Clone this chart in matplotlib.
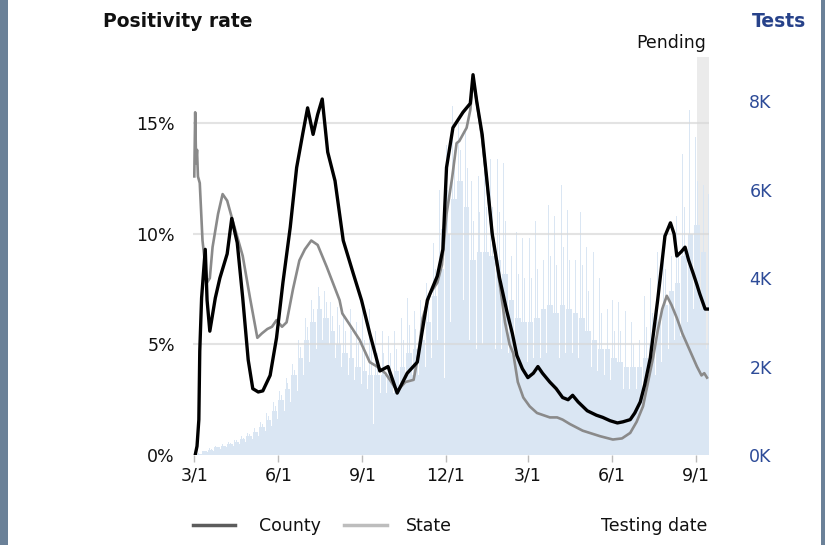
import matplotlib
matplotlib.use("Agg")
import matplotlib.pyplot as plt
import matplotlib.dates as mdates
import pandas as pd
from matplotlib.lines import Line2D
from matplotlib.patches import Rectangle

# ---------------- data ----------------
county_dates = ["2020-03-02", "2020-03-04", "2020-03-06", "2020-03-07", "2020-03-09", "2020-03-13",
                "2020-03-15", "2020-03-18", "2020-03-24", "2020-03-29", "2020-04-06", "2020-04-11",
                "2020-04-17", "2020-04-23", "2020-04-29", "2020-05-04", "2020-05-10", "2020-05-15",
                "2020-05-23", "2020-05-30", "2020-06-06", "2020-06-14", "2020-06-21", "2020-06-28",
                "2020-07-03", "2020-07-09", "2020-07-14", "2020-07-19", "2020-07-25", "2020-08-02",
                "2020-08-11", "2020-08-22", "2020-08-31", "2020-09-09", "2020-09-20", "2020-09-29",
                "2020-10-09", "2020-10-20", "2020-10-31", "2020-11-05", "2020-11-11", "2020-11-22",
                "2020-11-28", "2020-12-02", "2020-12-09", "2020-12-20", "2020-12-28", "2020-12-31",
                "2021-01-04", "2021-01-10", "2021-01-15", "2021-01-21", "2021-01-29", "2021-02-06",
                "2021-02-12", "2021-02-17", "2021-02-23", "2021-03-01", "2021-03-07", "2021-03-12",
                "2021-03-17", "2021-03-25", "2021-04-01", "2021-04-08", "2021-04-14", "2021-04-19",
                "2021-04-25", "2021-05-05", "2021-05-15", "2021-05-22", "2021-05-30", "2021-06-07",
                "2021-06-13", "2021-06-21", "2021-06-26", "2021-07-02", "2021-07-07", "2021-07-13",
                "2021-07-17", "2021-07-21", "2021-07-26", "2021-07-29", "2021-08-04", "2021-08-08",
                "2021-08-11", "2021-08-16", "2021-08-20", "2021-08-24", "2021-08-29", "2021-09-02",
                "2021-09-05", "2021-09-11", "2021-09-14"]
county_rate = [0.0, 0.4, 1.6, 4.7, 7.1, 9.3,
               7.0, 5.6, 7.1, 8.0, 9.1, 10.7,
               9.6, 7.1, 4.3, 3.0, 2.85, 2.9,
               3.6, 5.3, 7.8, 10.3, 13.0, 14.6,
               15.7, 14.5, 15.4, 16.1, 13.7, 12.4,
               9.7, 8.2, 7.0, 5.5, 3.8, 4.0,
               2.8, 3.7, 4.2, 5.5, 7.0, 8.1,
               9.3, 13.0, 14.8, 15.5, 15.9, 17.2,
               16.0, 14.5, 12.5, 10.0, 8.0, 6.5,
               5.5, 4.5, 3.9, 3.5, 3.7, 4.0,
               3.7, 3.3, 3.0, 2.6, 2.5, 2.7,
               2.4, 2.0, 1.8, 1.7, 1.55, 1.45,
               1.5, 1.6, 1.9, 2.4, 3.2, 4.4,
               5.7, 7.0, 8.8, 9.9, 10.5, 10.0,
               9.0, 9.2, 9.4, 8.8, 8.2, 7.7,
               7.3, 6.6, 6.6]

state_dates = ["2020-03-01", "2020-03-02", "2020-03-03", "2020-03-04", "2020-03-05", "2020-03-07",
               "2020-03-10", "2020-03-15", "2020-03-18", "2020-03-21", "2020-03-27", "2020-04-01",
               "2020-04-06", "2020-04-12", "2020-04-23", "2020-05-01", "2020-05-09", "2020-05-14",
               "2020-05-20", "2020-05-25", "2020-05-30", "2020-06-05", "2020-06-10", "2020-06-17",
               "2020-06-24", "2020-06-30", "2020-07-07", "2020-07-14", "2020-07-24", "2020-08-07",
               "2020-08-10", "2020-08-18", "2020-08-29", "2020-09-09", "2020-09-17", "2020-09-26",
               "2020-10-01", "2020-10-09", "2020-10-18", "2020-10-27", "2020-11-01", "2020-11-06",
               "2020-11-14", "2020-11-22", "2020-11-27", "2020-12-02", "2020-12-08", "2020-12-13",
               "2020-12-16", "2020-12-24", "2020-12-28", "2020-12-31", "2021-01-04", "2021-01-10",
               "2021-01-15", "2021-01-21", "2021-01-29", "2021-02-04", "2021-02-09", "2021-02-13",
               "2021-02-18", "2021-02-24", "2021-03-03", "2021-03-11", "2021-03-25", "2021-04-02",
               "2021-04-08", "2021-04-16", "2021-04-30", "2021-05-19", "2021-06-02", "2021-06-12",
               "2021-06-21", "2021-06-28", "2021-07-05", "2021-07-10", "2021-07-16", "2021-07-21",
               "2021-07-26", "2021-07-31", "2021-08-05", "2021-08-11", "2021-08-17", "2021-08-25",
               "2021-09-02", "2021-09-07", "2021-09-10", "2021-09-13"]
state_rate = [12.6, 15.5, 13.2, 13.8, 12.6, 12.3,
              9.7, 7.8, 8.0, 9.4, 10.9, 11.8,
              11.5, 10.6, 9.0, 7.1, 5.3, 5.5,
              5.7, 5.8, 6.1, 5.8, 6.0, 7.5,
              8.8, 9.3, 9.7, 9.5, 8.5, 7.0,
              6.4, 5.9, 5.2, 4.2, 4.0, 3.7,
              3.4, 2.9, 3.3, 3.4, 4.5, 6.2,
              7.3, 7.8, 8.6, 10.9, 12.5, 14.1,
              14.2, 14.8, 15.6, 17.0, 16.0, 14.3,
              12.4, 10.0, 7.8, 6.0, 5.0, 4.6,
              3.3, 2.6, 2.2, 1.9, 1.7, 1.7,
              1.6, 1.4, 1.1, 0.85, 0.7, 0.75,
              1.0, 1.5, 2.2, 3.2, 4.4, 5.6,
              6.6, 7.2, 6.8, 6.2, 5.5, 4.75,
              4.0, 3.6, 3.7, 3.5]

# weekly testing volume (thousands): usual day, busiest day, second busiest, Sunday
week_start = pd.date_range("2020-03-02", periods=81, freq="7D")
tests_base = [0.03, 0.08, 0.12, 0.17, 0.21, 0.25, 0.30, 0.36, 0.43, 0.52,
              0.64, 0.80, 1.00, 1.25, 1.50, 1.80, 2.20, 2.60, 3.00, 3.30,
              3.10, 2.80, 2.50, 2.30, 2.20, 2.00, 1.90, 1.80, 1.80, 1.80,
              1.80, 1.90, 2.00, 2.30, 2.40, 2.60, 3.00, 3.60, 4.20, 5.00,
              5.80, 6.20, 5.60, 4.40, 4.60, 4.60, 4.50, 4.40, 4.10, 3.50,
              3.10, 3.00, 3.00, 3.10, 3.30, 3.40, 3.20, 3.40, 3.30, 3.20,
              3.10, 2.80, 2.60, 2.40, 2.40, 2.20, 2.10, 2.00, 2.00, 2.00,
              2.20, 2.50, 3.00, 3.40, 3.70, 3.90, 4.50, 5.00, 5.20, 4.60,
              2.50]
tests_peak = [0.05, 0.10, 0.15, 0.20, 0.25, 0.30, 0.35, 0.42, 0.50, 0.62,
              0.75, 0.95, 1.20, 1.45, 1.75, 2.05, 2.60, 3.10, 3.50, 3.80,
              3.70, 3.45, 3.35, 3.20, 3.30, 3.00, 3.30, 3.30, 2.80, 2.80,
              2.70, 2.80, 3.10, 3.55, 3.25, 3.50, 3.90, 4.80, 6.00, 7.00,
              7.90, 7.50, 7.30, 6.20, 6.30, 6.50, 6.70, 6.70, 6.60, 5.50,
              5.05, 4.90, 4.90, 5.30, 5.55, 5.65, 5.40, 6.10, 5.55, 5.65,
              5.50, 4.70, 4.60, 4.00, 4.20, 3.50, 3.45, 3.25, 3.00, 3.30,
              3.60, 4.00, 4.60, 5.00, 5.40, 5.40, 6.80, 7.80, 7.20, 7.60,
              5.90]
tests_mid = [0.04, 0.09, 0.13, 0.18, 0.23, 0.28, 0.33, 0.39, 0.47, 0.57,
             0.70, 0.88, 1.10, 1.35, 1.62, 1.92, 2.45, 2.90, 3.30, 3.60,
             3.45, 3.15, 2.95, 2.80, 2.80, 2.55, 2.60, 2.55, 2.30, 2.30,
             2.30, 2.40, 2.60, 2.95, 2.85, 3.05, 3.45, 4.20, 5.10, 6.00,
             6.90, 6.90, 6.50, 5.30, 5.50, 5.60, 5.60, 5.50, 5.30, 4.50,
             4.10, 4.00, 4.00, 4.20, 4.40, 4.50, 4.30, 4.70, 4.40, 4.40,
             4.30, 3.70, 3.60, 3.20, 3.30, 2.80, 2.80, 2.60, 2.50, 2.60,
             2.90, 3.20, 3.80, 4.20, 4.50, 4.60, 5.60, 6.40, 6.20, 6.10,
             4.20]
tests_low = [0.02, 0.06, 0.10, 0.14, 0.18, 0.21, 0.25, 0.30, 0.36, 0.44,
             0.54, 0.66, 0.82, 1.00, 1.20, 1.45, 1.80, 2.10, 2.40, 2.60,
             2.50, 2.20, 2.00, 1.80, 1.70, 1.60, 1.50, 0.70, 1.40, 1.40,
             1.40, 1.50, 1.60, 1.80, 1.80, 2.00, 2.20, 2.60, 1.75, 3.00,
             3.40, 3.50, 2.60, 2.40, 2.50, 2.50, 2.40, 2.40, 2.30, 2.20,
             2.10, 2.10, 2.20, 2.20, 2.30, 2.30, 2.20, 2.30, 2.30, 2.20,
             2.10, 2.00, 1.90, 1.80, 1.70, 1.50, 1.50, 1.50, 1.50, 1.50,
             1.60, 1.80, 2.10, 2.40, 2.60, 2.70, 3.00, 3.30, 3.30, 2.40,
             0.30]

tick_dates = ["2020-03-01", "2020-06-01", "2020-09-01", "2020-12-01",
              "2021-03-01", "2021-06-01", "2021-09-01"]
tick_labels = ["3/1", "6/1", "9/1", "12/1", "3/1", "6/1", "9/1"]
rate_ticks = [0, 5, 10, 15]
rate_labels = ["0%", "5%", "10%", "15%"]
test_ticks = [0, 2, 4, 6, 8]
test_labels = ["0K", "2K", "4K", "6K", "8K"]
pending_start = "2021-09-02"

# ---------------- figure ----------------
W, H = 825, 545
fig = plt.figure(figsize=(W / 100, H / 100), dpi=100)
fig.patch.set_facecolor("white")
FS = 12.5
NAVY = "#2d4b98"

pos = [193 / W, 90 / H, 516 / W, 398 / H]
axb = fig.add_axes(pos)
axl = fig.add_axes(pos, sharex=axb)
axl.patch.set_visible(False)

start = mdates.date2num(pd.Timestamp("2020-03-01"))
xmin, xmax = start - 1.4, start + 563.2

# bars (tests)
ws = mdates.date2num(week_start)
bar_col = "#dae6f3"
axb.axvspan(mdates.date2num(pd.Timestamp(pending_start)), xmax, color="#ebebeb",
            lw=0, zorder=1)
axb.bar(ws, tests_base, width=6, align="edge", color=bar_col, lw=0, zorder=2)
axb.bar(ws + 6, tests_low, width=1, align="edge", color=bar_col, lw=0, zorder=2)
axb.bar(ws + 1, tests_peak, width=1, align="edge", color=bar_col, lw=0, zorder=2)
axb.bar(ws + 3, tests_mid, width=1, align="edge", color=bar_col, lw=0, zorder=2)
axb.set_ylim(0, 9)
axb.set_xlim(xmin, xmax)
axb.yaxis.tick_right()
axb.set_yticks(test_ticks)
axb.set_yticklabels(test_labels)
axb.tick_params(axis="y", length=0, pad=29, labelsize=FS, labelcolor=NAVY)
for lab in axb.get_yticklabels():
    lab.set_horizontalalignment("left")
axb.tick_params(axis="x", bottom=False, labelbottom=False)
for s in axb.spines.values():
    s.set_visible(False)

# lines (rate)
for v in rate_ticks[1:]:
    axl.axhline(v, color="#d8d8d8", lw=1.5, alpha=0.7, zorder=0)
axl.plot(pd.to_datetime(state_dates), state_rate, color="#8a8a8a", lw=1.9, zorder=2,
         solid_joinstyle="round")
axl.plot(pd.to_datetime(county_dates), county_rate, color="#000000", lw=2.4, zorder=3,
         solid_joinstyle="round")
axl.set_ylim(0, 18)
axl.set_xlim(xmin, xmax)
axl.set_yticks(rate_ticks)
axl.set_yticklabels(rate_labels)
axl.tick_params(axis="y", length=0, pad=13, labelsize=FS, labelcolor="#111111")
axl.set_xticks(mdates.date2num(pd.to_datetime(tick_dates)))
axl.set_xticklabels(tick_labels)
axl.tick_params(axis="x", length=5, width=1, color="#bbbbbb", pad=3, labelsize=FS,
                labelcolor="#111111")
for s in axl.spines.values():
    s.set_visible(False)

# texts
fig.text(103 / W, 1 - 27 / H, "Positivity rate", fontsize=13.5, fontweight="bold",
         va="baseline", ha="left", color="#111111")
fig.text(752 / W, 1 - 27 / H, "Tests", fontsize=13.5, fontweight="bold",
         va="baseline", ha="left", color="#27428a")
fig.text(706 / W, 1 - 48 / H, "Pending", fontsize=FS, va="baseline", ha="right",
         color="#111111")

# legend
ly = 1 - 525 / H
fig.add_artist(Line2D([193 / W, 235 / W], [ly, ly], transform=fig.transFigure,
                      color="#5c5c5c", lw=2.5))
fig.text(259 / W, 1 - 531 / H, "County", fontsize=FS, va="baseline", ha="left",
         color="#111111")
fig.add_artist(Line2D([344 / W, 387 / W], [ly, ly], transform=fig.transFigure,
                      color="#bdbdbd", lw=2.5))
fig.text(406 / W, 1 - 531 / H, "State", fontsize=FS, va="baseline", ha="left",
         color="#111111")
fig.text(707 / W, 1 - 531 / H, "Testing date", fontsize=FS, va="baseline", ha="right",
         color="#111111")

# frame strips
fig.add_artist(Rectangle((0, 0), 8 / W, 1, transform=fig.transFigure,
                         color="#6b8198", lw=0))
fig.add_artist(Rectangle((821 / W, 0), 4 / W, 1, transform=fig.transFigure,
                         color="#6b8198", lw=0))

fig.savefig("out.png", dpi=100)
